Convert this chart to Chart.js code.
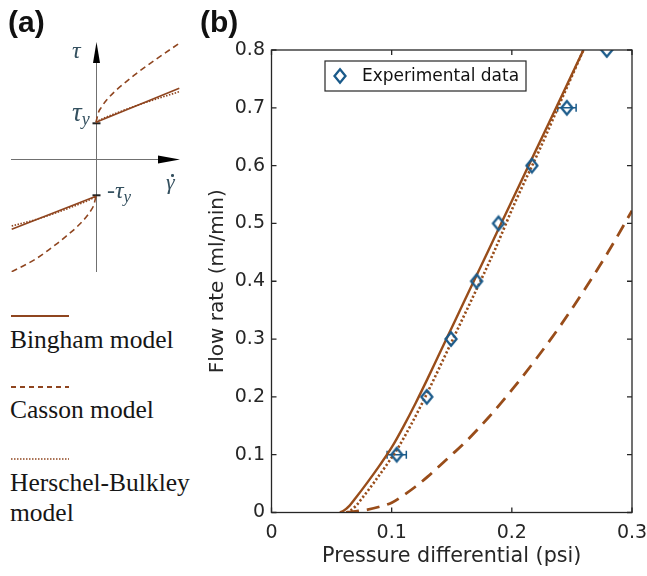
<!DOCTYPE html>
<html>
<head>
<meta charset="utf-8">
<script src="https://cdn.jsdelivr.net/npm/chart.js@4/dist/chart.umd.min.js"></script>
<style>
  html, body { margin: 0; padding: 0; background: #fff; }
  #page { position: relative; width: 647px; height: 576px; overflow: hidden; }
  canvas { position: absolute; }
  #schematic { left: 0; top: 0; }
  #flow { left: 200px; top: 0; }
  .tag { position: absolute; font: bold 30px "Liberation Sans", Arial, sans-serif; line-height: 30px; color: #111; }
  .sym { position: absolute; font-family: "Liberation Serif", serif; font-style: italic; color: #34505f; line-height: 1; white-space: nowrap; }
  .dot { position: absolute; width: 2.6px; height: 2.6px; border-radius: 50%; background: #34505f; }
  .key { position: absolute; left: 10px; font: 25.5px "Liberation Serif", serif; line-height: 30px; color: #161616; white-space: nowrap; }
  .swatch { position: absolute; left: 11px; }
</style>
</head>
<body>
<div id="page">
  <canvas id="schematic" width="200" height="290"></canvas>
  <canvas id="flow" width="447" height="576"></canvas>

  <div class="tag" style="left:8px;top:7px">(a)</div>
  <div class="tag" style="left:200px;top:7px">(b)</div>

  <span class="sym" style="left:72px;top:38px;font-size:24px">τ</span>
  <span class="sym" style="left:72px;top:99px;font-size:27px">τ<span style="font-size:18px;position:relative;top:4px">y</span></span>
  <span class="sym" style="left:107px;top:178px;font-size:24px">-τ<span style="font-size:17px;position:relative;top:4px">y</span></span>
  <span class="sym" style="left:166px;top:171px;font-size:22px">γ</span>
  <div class="dot" style="left:171px;top:174px"></div>

  <svg class="swatch" style="top:314px" width="60" height="4"><line x1="0" y1="2" x2="58" y2="2" stroke="#8f451f" stroke-width="2"/></svg>
  <div class="key" style="top:325px">Bingham model</div>
  <svg class="swatch" style="top:385px" width="60" height="4"><line x1="0" y1="2" x2="58" y2="2" stroke="#8f451f" stroke-width="2" stroke-dasharray="5 4"/></svg>
  <div class="key" style="top:395px">Casson model</div>
  <svg class="swatch" style="top:457px" width="60" height="4"><line x1="0" y1="2" x2="58" y2="2" stroke="#8f451f" stroke-width="1.6" stroke-dasharray="1.5 1.5"/></svg>
  <div class="key" style="top:468px">Herschel-Bulkley<br>model</div>
</div>

<script>
// ---- (a) shear stress vs shear rate sketch ----
const rateBingham = [0, 8.33];
const stressBingham = [3.7, 7.1];
const rateBinghamNeg = [-8.43, 0];
const stressBinghamNeg = [-7.0, -3.7];

const rateHB = [0, 0.5, 1, 2, 4, 6, 8.33];
const stressHB = [3.7, 3.98, 4.21, 4.61, 5.35, 6.02, 6.76];
const rateHBNeg = [-8.43, -6, -4, -2, -1, -0.5, 0];
const stressHBNeg = [-6.67, -6.02, -5.35, -4.61, -4.21, -3.98, -3.7];

const rateCasson = [0, 0.25, 0.5, 1, 2, 3, 4, 6, 8.33];
const stressCasson = [3.7, 4.7, 5.15, 5.85, 6.9, 7.75, 8.55, 10.0, 11.6];
const rateCassonNeg = [-8.43, -6, -4, -3, -2, -1, -0.5, -0.25, 0];
const stressCassonNeg = [-11.24, -9.95, -8.5, -7.7, -6.85, -5.8, -5.1, -4.65, -3.7];

const yieldStress = 3.6;

// ---- (b) flow rate vs pressure differential ----
const pressure = [0.1042, 0.1292, 0.1494, 0.1707, 0.1889, 0.2167, 0.2458, 0.2790];
const flowRate = [0.1, 0.2, 0.3, 0.4, 0.5, 0.6, 0.7, 0.8];
const pressureErr = [0.008, 0, 0, 0, 0, 0, 0.0077, 0];

const binghamP = [0.057, 0.06, 0.065, 0.07, 0.08, 0.09, 0.1, 0.11, 0.12, 0.13, 0.14, 0.16, 0.18, 0.2, 0.22, 0.24, 0.2596];
const binghamQ = [0, 0.003, 0.012, 0.025, 0.0525, 0.0815, 0.1125, 0.1495, 0.1895, 0.232, 0.276, 0.3636, 0.4512, 0.5388, 0.6264, 0.714, 0.8];

const cassonP = [0.062, 0.07, 0.08, 0.09, 0.1, 0.11, 0.12, 0.13, 0.14, 0.15, 0.16, 0.18, 0.2, 0.22, 0.24, 0.26, 0.28, 0.3];
const cassonQ = [0, 0.002, 0.005, 0.01, 0.017, 0.03, 0.045, 0.062, 0.081, 0.1, 0.119, 0.163, 0.212, 0.265, 0.322, 0.384, 0.45, 0.522];

const hbP = [0.0626, 0.0655, 0.0705, 0.0755, 0.0855, 0.0955, 0.1055, 0.1155, 0.1255, 0.1355, 0.1455, 0.1655, 0.1852, 0.2032, 0.2228, 0.2413, 0.2596];
const hbQ = [0, 0.003, 0.012, 0.025, 0.0525, 0.0815, 0.1125, 0.1495, 0.1895, 0.232, 0.276, 0.3636, 0.4512, 0.5388, 0.6264, 0.714, 0.8];

const xTicks = [0, 0.1, 0.2, 0.3];
const yTicks = [0, 0.1, 0.2, 0.3, 0.4, 0.5, 0.6, 0.7, 0.8];

const BROWN = '#8f451f';
const MODEL = '#994d1a';
const BLUE = '#1a5a8a';
const AXIS = '#262626';
const FONT = 'DejaVu Sans';

const pts = (xs, ys) => xs.map((v, i) => ({ x: v, y: ys[i] }));

function sketchLine(xs, ys, dash, width) {
  return {
    data: pts(xs, ys),
    showLine: true,
    pointRadius: 0,
    borderColor: BROWN,
    borderWidth: width || 1.6,
    borderDash: dash || [],
    cubicInterpolationMode: 'monotone'
  };
}

// axes with arrow heads and the yield stress marks
const sketchAxes = {
  id: 'sketchAxes',
  beforeDatasetsDraw(chart) {
    const { ctx, chartArea: a, scales: { x, y } } = chart;
    const x0 = Math.round(x.getPixelForValue(0)) + 0.5;
    const y0 = Math.round(y.getPixelForValue(0)) + 0.5;
    ctx.save();
    ctx.strokeStyle = '#707070';
    ctx.lineWidth = 1;
    ctx.beginPath();
    ctx.moveTo(x0, a.bottom);
    ctx.lineTo(x0, a.top + 15);
    ctx.moveTo(a.left, y0);
    ctx.lineTo(a.right - 15, y0);
    ctx.stroke();

    ctx.fillStyle = '#000';
    ctx.beginPath();
    ctx.moveTo(x0, a.top);
    ctx.lineTo(x0 + 3.5, a.top + 21);
    ctx.lineTo(x0 - 3.5, a.top + 21);
    ctx.closePath();
    ctx.fill();
    ctx.beginPath();
    ctx.moveTo(a.right, y0);
    ctx.lineTo(a.right - 22, y0 - 4);
    ctx.lineTo(a.right - 22, y0 + 4);
    ctx.closePath();
    ctx.fill();

    ctx.fillStyle = '#222';
    [yieldStress, -yieldStress].forEach(v => {
      const py = y.getPixelForValue(v);
      ctx.fillRect(x0 - 4, py - 1, 8, 2);
    });
    ctx.restore();
  }
};

new Chart(document.getElementById('schematic'), {
  type: 'scatter',
  data: {
    datasets: [
      sketchLine(rateBingham, stressBingham),
      sketchLine(rateBinghamNeg, stressBinghamNeg),
      sketchLine(rateHB, stressHB, [1.5, 1.5]),
      sketchLine(rateHBNeg, stressHBNeg, [1.5, 1.5]),
      sketchLine(rateCasson, stressCasson, [6, 4]),
      sketchLine(rateCassonNeg, stressCassonNeg, [6, 4])
    ]
  },
  options: {
    responsive: false,
    animation: false,
    devicePixelRatio: 1,
    layout: { padding: { left: 11, right: 20, top: 42, bottom: 18 } },
    scales: {
      x: { type: 'linear', display: false, min: -8.5, max: 8.4 },
      y: { type: 'linear', display: false, min: -11.27, max: 11.73 }
    },
    plugins: { legend: { display: false }, tooltip: { enabled: false } }
  },
  plugins: [sketchAxes]
});

// open diamond marker
function diamond(w, h, color, lw) {
  const c = document.createElement('canvas');
  c.width = w + 5;
  c.height = h + 5;
  const g = c.getContext('2d');
  const cx = c.width / 2, cy = c.height / 2;
  g.strokeStyle = color;
  g.lineWidth = lw;
  g.beginPath();
  g.moveTo(cx, cy - h / 2);
  g.lineTo(cx + w / 2, cy);
  g.lineTo(cx, cy + h / 2);
  g.lineTo(cx - w / 2, cy);
  g.closePath();
  g.stroke();
  return c;
}
const marker = diamond(11, 13.5, BLUE, 2.3);

// box with inward ticks on all four sides
const boxFrame = {
  id: 'boxFrame',
  afterDatasetsDraw(chart) {
    const { ctx, chartArea: a, scales: { x, y } } = chart;
    ctx.save();
    ctx.strokeStyle = AXIS;
    ctx.lineWidth = 1.3;
    ctx.strokeRect(a.left, a.top, a.right - a.left, a.bottom - a.top);
    ctx.beginPath();
    x.ticks.forEach(t => {
      const px = x.getPixelForValue(t.value);
      ctx.moveTo(px, a.bottom); ctx.lineTo(px, a.bottom - 5);
      ctx.moveTo(px, a.top); ctx.lineTo(px, a.top + 5);
    });
    y.ticks.forEach(t => {
      const py = y.getPixelForValue(t.value);
      ctx.moveTo(a.left, py); ctx.lineTo(a.left + 5, py);
      ctx.moveTo(a.right, py); ctx.lineTo(a.right - 5, py);
    });
    ctx.stroke();
    ctx.restore();
  }
};

// horizontal error bars on the measured points
const errorBars = {
  id: 'errorBars',
  beforeDatasetsDraw(chart) {
    const { ctx, scales: { x, y } } = chart;
    ctx.save();
    ctx.strokeStyle = BLUE;
    ctx.lineWidth = 1.5;
    ctx.beginPath();
    pressure.forEach((p, i) => {
      const e = pressureErr[i];
      if (!e) return;
      const py = y.getPixelForValue(flowRate[i]);
      const x1 = x.getPixelForValue(p - e), x2 = x.getPixelForValue(p + e);
      ctx.moveTo(x1, py); ctx.lineTo(x2, py);
      ctx.moveTo(x1, py - 4); ctx.lineTo(x1, py + 4);
      ctx.moveTo(x2, py - 4); ctx.lineTo(x2, py + 4);
    });
    ctx.stroke();
    ctx.restore();
  }
};

// legend box inside the plot
const dataKey = {
  id: 'dataKey',
  afterDraw(chart) {
    const ctx = chart.ctx;
    const bx = 125, by = 61, bw = 201, bh = 30;
    ctx.save();
    ctx.fillStyle = '#fff';
    ctx.fillRect(bx, by, bw, bh);
    ctx.strokeStyle = AXIS;
    ctx.lineWidth = 1.2;
    ctx.strokeRect(bx, by, bw, bh);
    ctx.drawImage(marker, bx + 15 - marker.width / 2, by + bh / 2 - marker.height / 2);
    ctx.fillStyle = '#111';
    ctx.font = `17px "${FONT}"`;
    ctx.textBaseline = 'middle';
    ctx.fillText('Experimental data', bx + 37, by + bh / 2 + 1);
    ctx.restore();
  }
};

function modelLine(xs, ys, dash, width) {
  return {
    data: pts(xs, ys),
    showLine: true,
    pointRadius: 0,
    borderColor: MODEL,
    borderWidth: width,
    borderDash: dash,
    borderCapStyle: 'butt',
    cubicInterpolationMode: 'monotone'
  };
}

new Chart(document.getElementById('flow'), {
  type: 'scatter',
  data: {
    datasets: [
      {
        label: 'Experimental data',
        data: pts(pressure, flowRate),
        pointStyle: marker,
        pointRadius: 7,
        showLine: false
      },
      modelLine(binghamP, binghamQ, [], 2.4),
      modelLine(hbP, hbQ, [2.2, 2.2], 2.6),
      modelLine(cassonP, cassonQ, [13, 8], 2.8)
    ]
  },
  options: {
    responsive: false,
    animation: false,
    devicePixelRatio: 1,
    layout: { padding: { top: 50, right: 15, left: 0, bottom: 0 } },
    scales: {
      x: {
        type: 'linear', min: 0, max: 0.3,
        grid: { display: false, drawTicks: false },
        border: { display: false },
        afterBuildTicks: s => { s.ticks = xTicks.map(v => ({ value: v })); },
        afterFit: s => { s.height = 63.5; s.paddingLeft = 0; s.paddingRight = 0; },
        ticks: {
          padding: 9, color: AXIS, maxRotation: 0, autoSkip: false,
          font: { family: FONT, size: 19 },
          callback: v => v === 0 ? '0' : v.toFixed(1)
        },
        title: {
          display: true, text: 'Pressure differential (psi)', color: AXIS,
          font: { family: FONT, size: 20.7 }, padding: { top: 0, bottom: 7 }
        }
      },
      y: {
        type: 'linear', min: 0, max: 0.8,
        grid: { display: false, drawTicks: false },
        border: { display: false },
        afterBuildTicks: s => { s.ticks = yTicks.map(v => ({ value: v })); },
        afterFit: s => { s.width = 71.5; s.paddingTop = 0; s.paddingBottom = 0; },
        ticks: {
          padding: 6.5, color: AXIS, autoSkip: false,
          font: { family: FONT, size: 19 },
          callback: v => v === 0 ? '0' : v.toFixed(1)
        },
        title: {
          display: true, text: 'Flow rate (ml/min)', color: AXIS,
          font: { family: FONT, size: 20 }, padding: { top: 6, bottom: 0 }
        }
      }
    },
    plugins: { legend: { display: false }, tooltip: { enabled: false } }
  },
  plugins: [errorBars, boxFrame, dataKey]
});
</script>
</body>
</html>
